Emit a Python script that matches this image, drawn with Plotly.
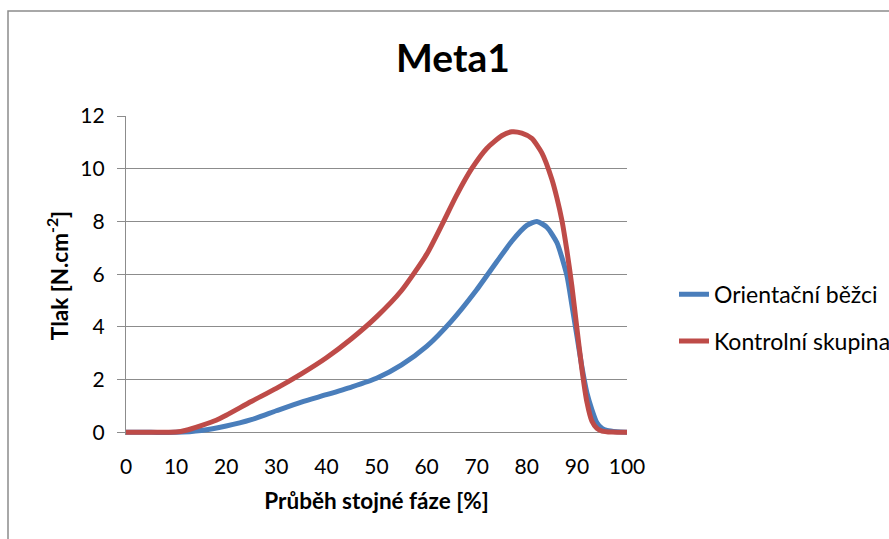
import plotly.graph_objects as go

# Data
x_orient = [0, 5, 10, 15, 20, 25, 30, 35, 40, 45, 50, 55, 60, 65, 70, 74, 77, 80, 82,
            84, 86, 88, 89, 90, 91, 92, 93, 94, 95, 96, 98, 100]
y_orient = [0, 0, 0, 0.07, 0.24, 0.48, 0.82, 1.15, 1.43, 1.72, 2.05, 2.56, 3.26, 4.23,
            5.41, 6.47, 7.25, 7.85, 8.0, 7.78, 7.2, 5.95, 4.83, 3.66, 2.48, 1.5, 0.86,
            0.36, 0.15, 0.07, 0.02, 0]

x_kontrol = [0, 5, 10, 12, 15, 18, 20, 25, 30, 35, 40, 45, 50, 55, 60, 63, 66, 69, 72,
             75, 77, 79, 81, 83, 85, 86, 87, 88, 89, 90, 91, 92, 93, 94, 95, 97, 100]
y_kontrol = [0, 0, 0.01, 0.08, 0.26, 0.46, 0.65, 1.17, 1.67, 2.22, 2.83, 3.55, 4.38, 5.38,
             6.75, 7.85, 9.0, 10.0, 10.77, 11.25, 11.4, 11.35, 11.15, 10.6, 9.6, 8.9, 8.05,
             6.9, 5.55, 3.95, 2.4, 1.15, 0.42, 0.15, 0.05, 0.01, 0]

x_ticks = [0, 10, 20, 30, 40, 50, 60, 70, 80, 90, 100]
y_ticks = [0, 2, 4, 6, 8, 10, 12]

series_names = ["Orientační běžci", "Kontrolní skupina"]
colors = ["#4A7EBB", "#BE4B48"]

FONT = "Lato, Carlito, Calibri, sans-serif"
GRID = "#8C8C8C"

fig = go.Figure()
fig.add_trace(go.Scatter(x=x_orient, y=y_orient, mode="lines", name=series_names[0],
                         line=dict(color=colors[0], width=5, shape="spline", smoothing=0.6),
                         legendgroup="a"))
fig.add_trace(go.Scatter(x=x_kontrol, y=y_kontrol, mode="lines", name=series_names[1],
                         line=dict(color=colors[1], width=5, shape="spline", smoothing=0.6),
                         legendgroup="b"))

W, H = 889, 539
left, right_px = 126, 627
top_px, zero_px = 116, 432
unit = (zero_px - top_px) / 12.0
ymin = -0.1
bottom_px = zero_px + (-ymin) * unit
plot_h = bottom_px - top_px

fig.update_layout(
    width=W, height=H,
    margin=dict(l=left, r=W - right_px, t=top_px, b=H - bottom_px, pad=0, autoexpand=False),
    paper_bgcolor="white", plot_bgcolor="white",
    font=dict(family=FONT, size=21, color="black"),
    title=dict(text="<b>Meta1</b>", font=dict(family=FONT, size=39, color="black"),
               x=(453 - left) / (right_px - left), xref="paper", xanchor="center",
               y=1 - 58 / H, yref="container", yanchor="middle"),
    showlegend=True,
    legend=dict(x=(674 - left) / (right_px - left), xanchor="left",
                y=(bottom_px - 317.5) / plot_h, yanchor="middle", yref="paper",
                bgcolor="rgba(0,0,0,0)", borderwidth=0,
                font=dict(family=FONT, size=23, color="black"),
                tracegroupgap=14),
    xaxis=dict(range=[0, 100], tickvals=x_ticks, ticktext=[str(v) for v in x_ticks],
               showgrid=False, zeroline=False, showline=False, ticks="",
               ticklabelstandoff=17, tickfont=dict(size=21),
               title=dict(text="<b>Průběh stojné fáze [%]</b>", standoff=16,
                          font=dict(family=FONT, size=22.5))),
    yaxis=dict(range=[ymin, 12], tickvals=y_ticks, ticktext=[str(v) for v in y_ticks],
               showgrid=True, gridcolor=GRID, gridwidth=1.3, zeroline=False,
               showline=True, linecolor=GRID, linewidth=1.3,
               ticks="outside", ticklen=8, tickcolor=GRID, tickwidth=1.3,
               ticklabelstandoff=8, tickfont=dict(size=21),
               title=dict(text="<b>Tlak [N.cm<sup>-2</sup>]</b>", standoff=5,
                          font=dict(family=FONT, size=22.5))),
    shapes=[dict(type="rect", xref="paper", yref="paper",
                 x0=(8 - left) / (right_px - left), x1=2.0,
                 y0=-1.0, y1=(bottom_px - 11) / plot_h,
                 line=dict(color=GRID, width=1.5), fillcolor="rgba(0,0,0,0)",
                 layer="below")],
)

fig.write_html("out.html")
